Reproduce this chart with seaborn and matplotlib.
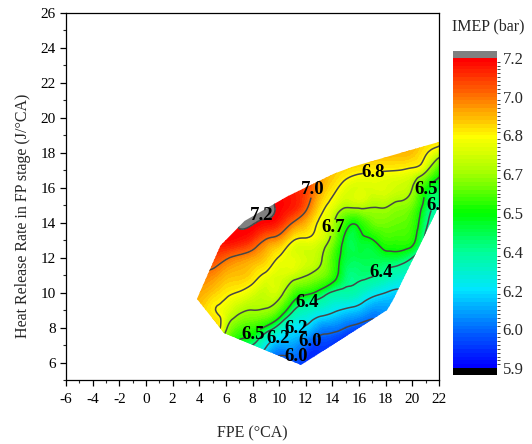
import numpy as np
import matplotlib
matplotlib.use("Agg")
import matplotlib.pyplot as plt
import matplotlib.tri as mtri
from matplotlib.colors import ListedColormap, BoundaryNorm
from matplotlib.patches import Polygon
from matplotlib.ticker import MultipleLocator
import seaborn as sns

# ---------------- data ----------------
fpe = list(range(3, 24))          # FPE (°CA) grid
hrr = list(range(5, 20))          # heat release rate grid (J/°CA)
# IMEP (bar), one list per FPE value, running over hrr = 5 ... 19
imep_cols = [
    [6.70, 6.75, 6.80, 6.85, 6.88, 6.94, 7.02, 7.10, 7.14, 7.16, 7.16, 7.16, 7.16, 7.16, 7.16],
    [6.68, 6.72, 6.78, 6.84, 6.87, 6.92, 6.99, 7.08, 7.15, 7.17, 7.18, 7.18, 7.18, 7.18, 7.18],
    [6.60, 6.68, 6.76, 6.87, 6.81, 6.87, 6.96, 7.08, 7.16, 7.18, 7.19, 7.19, 7.19, 7.19, 7.19],
    [6.40, 6.50, 6.60, 6.72, 6.77, 6.82, 6.90, 7.02, 7.18, 7.19, 7.20, 7.20, 7.20, 7.20, 7.20],
    [6.20, 6.30, 6.45, 6.60, 6.72, 6.795, 6.88, 6.97, 7.16, 7.20, 7.22, 7.22, 7.22, 7.22, 7.22],
    [6.05, 6.20, 6.40, 6.56, 6.70, 6.76, 6.84, 6.93, 7.10, 7.205, 7.22, 7.22, 7.22, 7.22, 7.22],
    [5.95, 6.05, 6.23, 6.48, 6.69, 6.74, 6.785, 6.87, 6.99, 7.18, 7.215, 7.22, 7.22, 7.22, 7.22],
    [5.92, 5.96, 6.10, 6.35, 6.60, 6.735, 6.76, 6.795, 6.93, 7.13, 7.19, 7.20, 7.20, 7.20, 7.20],
    [5.92, 5.97, 6.09, 6.22, 6.42, 6.60, 6.74, 6.77, 6.81, 7.00, 7.15, 7.14, 7.14, 7.14, 7.14],
    [5.92, 5.95, 6.00, 6.18, 6.33, 6.53, 6.705, 6.75, 6.785, 6.90, 7.04, 7.08, 7.05, 7.00, 7.00],
    [5.92, 5.93, 5.96, 6.07, 6.28, 6.47, 6.66, 6.72, 6.76, 6.79, 6.86, 6.93, 6.95, 6.95, 6.95],
    [5.92, 5.92, 5.95, 6.04, 6.23, 6.39, 6.56, 6.59, 6.66, 6.72, 6.775, 6.83, 6.88, 6.90, 6.90],
    [5.92, 5.92, 5.93, 6.00, 6.18, 6.37, 6.43, 6.46, 6.47, 6.55, 6.72, 6.77, 6.84, 6.90, 6.92],
    [5.92, 5.92, 5.93, 5.97, 6.14, 6.33, 6.42, 6.45, 6.47, 6.53, 6.73, 6.76, 6.82, 6.90, 6.92],
    [5.92, 5.92, 5.92, 5.95, 6.07, 6.25, 6.41, 6.45, 6.495, 6.62, 6.71, 6.76, 6.81, 6.90, 6.92],
    [5.92, 5.92, 5.93, 5.98, 6.08, 6.20, 6.37, 6.46, 6.56, 6.64, 6.71, 6.76, 6.805, 6.90, 6.92],
    [5.92, 5.93, 5.95, 6.00, 6.08, 6.17, 6.32, 6.455, 6.56, 6.62, 6.68, 6.745, 6.80, 6.90, 6.92],
    [5.95, 5.97, 6.00, 6.05, 6.10, 6.18, 6.28, 6.40, 6.53, 6.57, 6.63, 6.70, 6.785, 6.88, 6.90],
    [6.00, 6.00, 6.03, 6.06, 6.10, 6.15, 6.22, 6.30, 6.38, 6.42, 6.46, 6.52, 6.72, 6.81, 6.86],
    [6.05, 6.05, 6.07, 6.10, 6.13, 6.17, 6.22, 6.27, 6.32, 6.36, 6.40, 6.45, 6.56, 6.75, 6.85],
    [6.05, 6.06, 6.08, 6.10, 6.13, 6.16, 6.20, 6.24, 6.28, 6.32, 6.36, 6.40, 6.50, 6.70, 6.80],
]
# outline of the measured operating region
edge_fpe = [3.83, 5.6, 7.4, 10.6, 14.1, 15.5, 21.2, 22.6, 22.6, 18.55, 18.1, 11.64, 5.86]
edge_hrr = [9.64, 12.7, 14.1, 15.5, 16.8, 17.2, 18.45, 18.75, 15.9, 9.58, 9.0, 5.86, 7.69]

tick_vals = [5.9, 6.0, 6.2, 6.4, 6.5, 6.7, 6.8, 7.0, 7.2]
bar_colors = ["#0000ff", "#006eff", "#00e6ff", "#00ff96", "#00ff00",
              "#a0ff00", "#ffff00", "#ff7800", "#ff0000"]
# contour label anchor points (FPE, HRR)
label_pos = [(12.6, 15.9), (17.1, 16.85), (14.1, 13.7), (21.1, 15.9),
             (21.9, 15.1), (17.7, 11.1), (12.1, 9.5), (8.0, 7.65), (11.3, 7.95),
             (10.0, 7.25), (12.3, 7.2), (11.4, 6.2)]
top_label = ("7.2", 8.7, 14.4)

# ---------------- style ----------------
sns.set_style("ticks")
plt.rcParams['font.family'] = ['Liberation Serif', 'DejaVu Serif']
plt.rcParams['axes.unicode_minus'] = False

fig = plt.figure(figsize=(5.32, 4.44), dpi=100)
ax = fig.add_axes([66 / 532, 1 - 380 / 444, (439 - 66) / 532, (380 - 13) / 444])

# levels: uniform subdivision inside each colour-bar segment
nsub = 10
levels = []
for a, b in zip(tick_vals[:-1], tick_vals[1:]):
    levels.extend(np.linspace(a, b, nsub + 1)[:-1])
levels.append(tick_vals[-1])
levels = np.array(levels)
ncol = len(levels) - 1
cmap = ListedColormap(sns.blend_palette(bar_colors, n_colors=ncol))
cmap.set_over("#808080")
cmap.set_under("#000000")
norm = BoundaryNorm(levels, ncolors=ncol)

X, Y = np.meshgrid(fpe, hrr)
Z = np.array(imep_cols).T
tri = mtri.Triangulation(X.ravel(), Y.ravel())
tri_f, z_f = mtri.UniformTriRefiner(tri).refine_field(Z.ravel(), subdiv=3)
z_f = np.clip(z_f, 5.905, None)

cs = ax.tricontourf(tri_f, z_f, levels=levels, cmap=cmap, norm=norm, extend='both')
cl = ax.tricontour(tri_f, z_f, levels=tick_vals, colors='#474747', linewidths=1.1)

patch = Polygon(np.column_stack([edge_fpe, edge_hrr]), closed=True,
                facecolor='none', edgecolor='none', transform=ax.transData)
ax.add_patch(patch)
cs.set_clip_path(patch)
cl.set_clip_path(patch)

label_font = dict(fontsize=13.5, fontweight='bold', color='black')
texts = ax.clabel(cl, inline=True, fontsize=13.5, fmt='%.1f', manual=label_pos,
                  inline_spacing=1, colors='black')
for t in texts:
    t.set_rotation(0)
    t.set_fontweight('bold')
    t.set_clip_on(True)
ax.text(top_label[1], top_label[2], top_label[0], ha='center', va='center', **label_font)

ax.set_xlim(-6, 22)
ax.set_ylim(5, 26)
ax.set_xticks(range(-6, 23, 2))
ax.set_yticks(range(6, 27, 2))
ax.xaxis.set_minor_locator(MultipleLocator(1))
ax.yaxis.set_minor_locator(MultipleLocator(1))
ax.tick_params(which='major', direction='out', length=4.5, width=0.9,
               labelsize=11, pad=3, top=False, right=False, colors='black')
ax.tick_params(axis='x', which='major', pad=5)
ax.tick_params(which='minor', direction='out', length=2.5, width=0.8,
               top=False, right=False)
for s in ax.spines.values():
    s.set_visible(True)
    s.set_color('black')
    s.set_linewidth(0.9)
ax.set_facecolor('white')

ax.set_xlabel("FPE (°CA)", fontsize=11.5)
ax.xaxis.set_label_coords(0.5, -0.125)
ax.set_ylabel("Heat Release Rate in FP stage (J/°CA)", fontsize=11.5)
ax.yaxis.set_label_coords(-0.095, 0.447)

# ---------------- colour bar ----------------
cax = fig.add_axes([453 / 532, 1 - 375 / 444, 44 / 532, 324 / 444])
cb = fig.colorbar(cs, cax=cax, ticks=tick_vals, extend='both', extendrect=True,
                  extendfrac=0.022, format='%.1f')
cb.outline.set_visible(False)
cax.tick_params(length=0, pad=4, labelsize=12)
fig.text(452 / 532, 1 - 26 / 444, "IMEP (bar)", fontsize=11.5, ha='left', va='center')

fig.savefig("out.png", dpi=100, facecolor='white')
